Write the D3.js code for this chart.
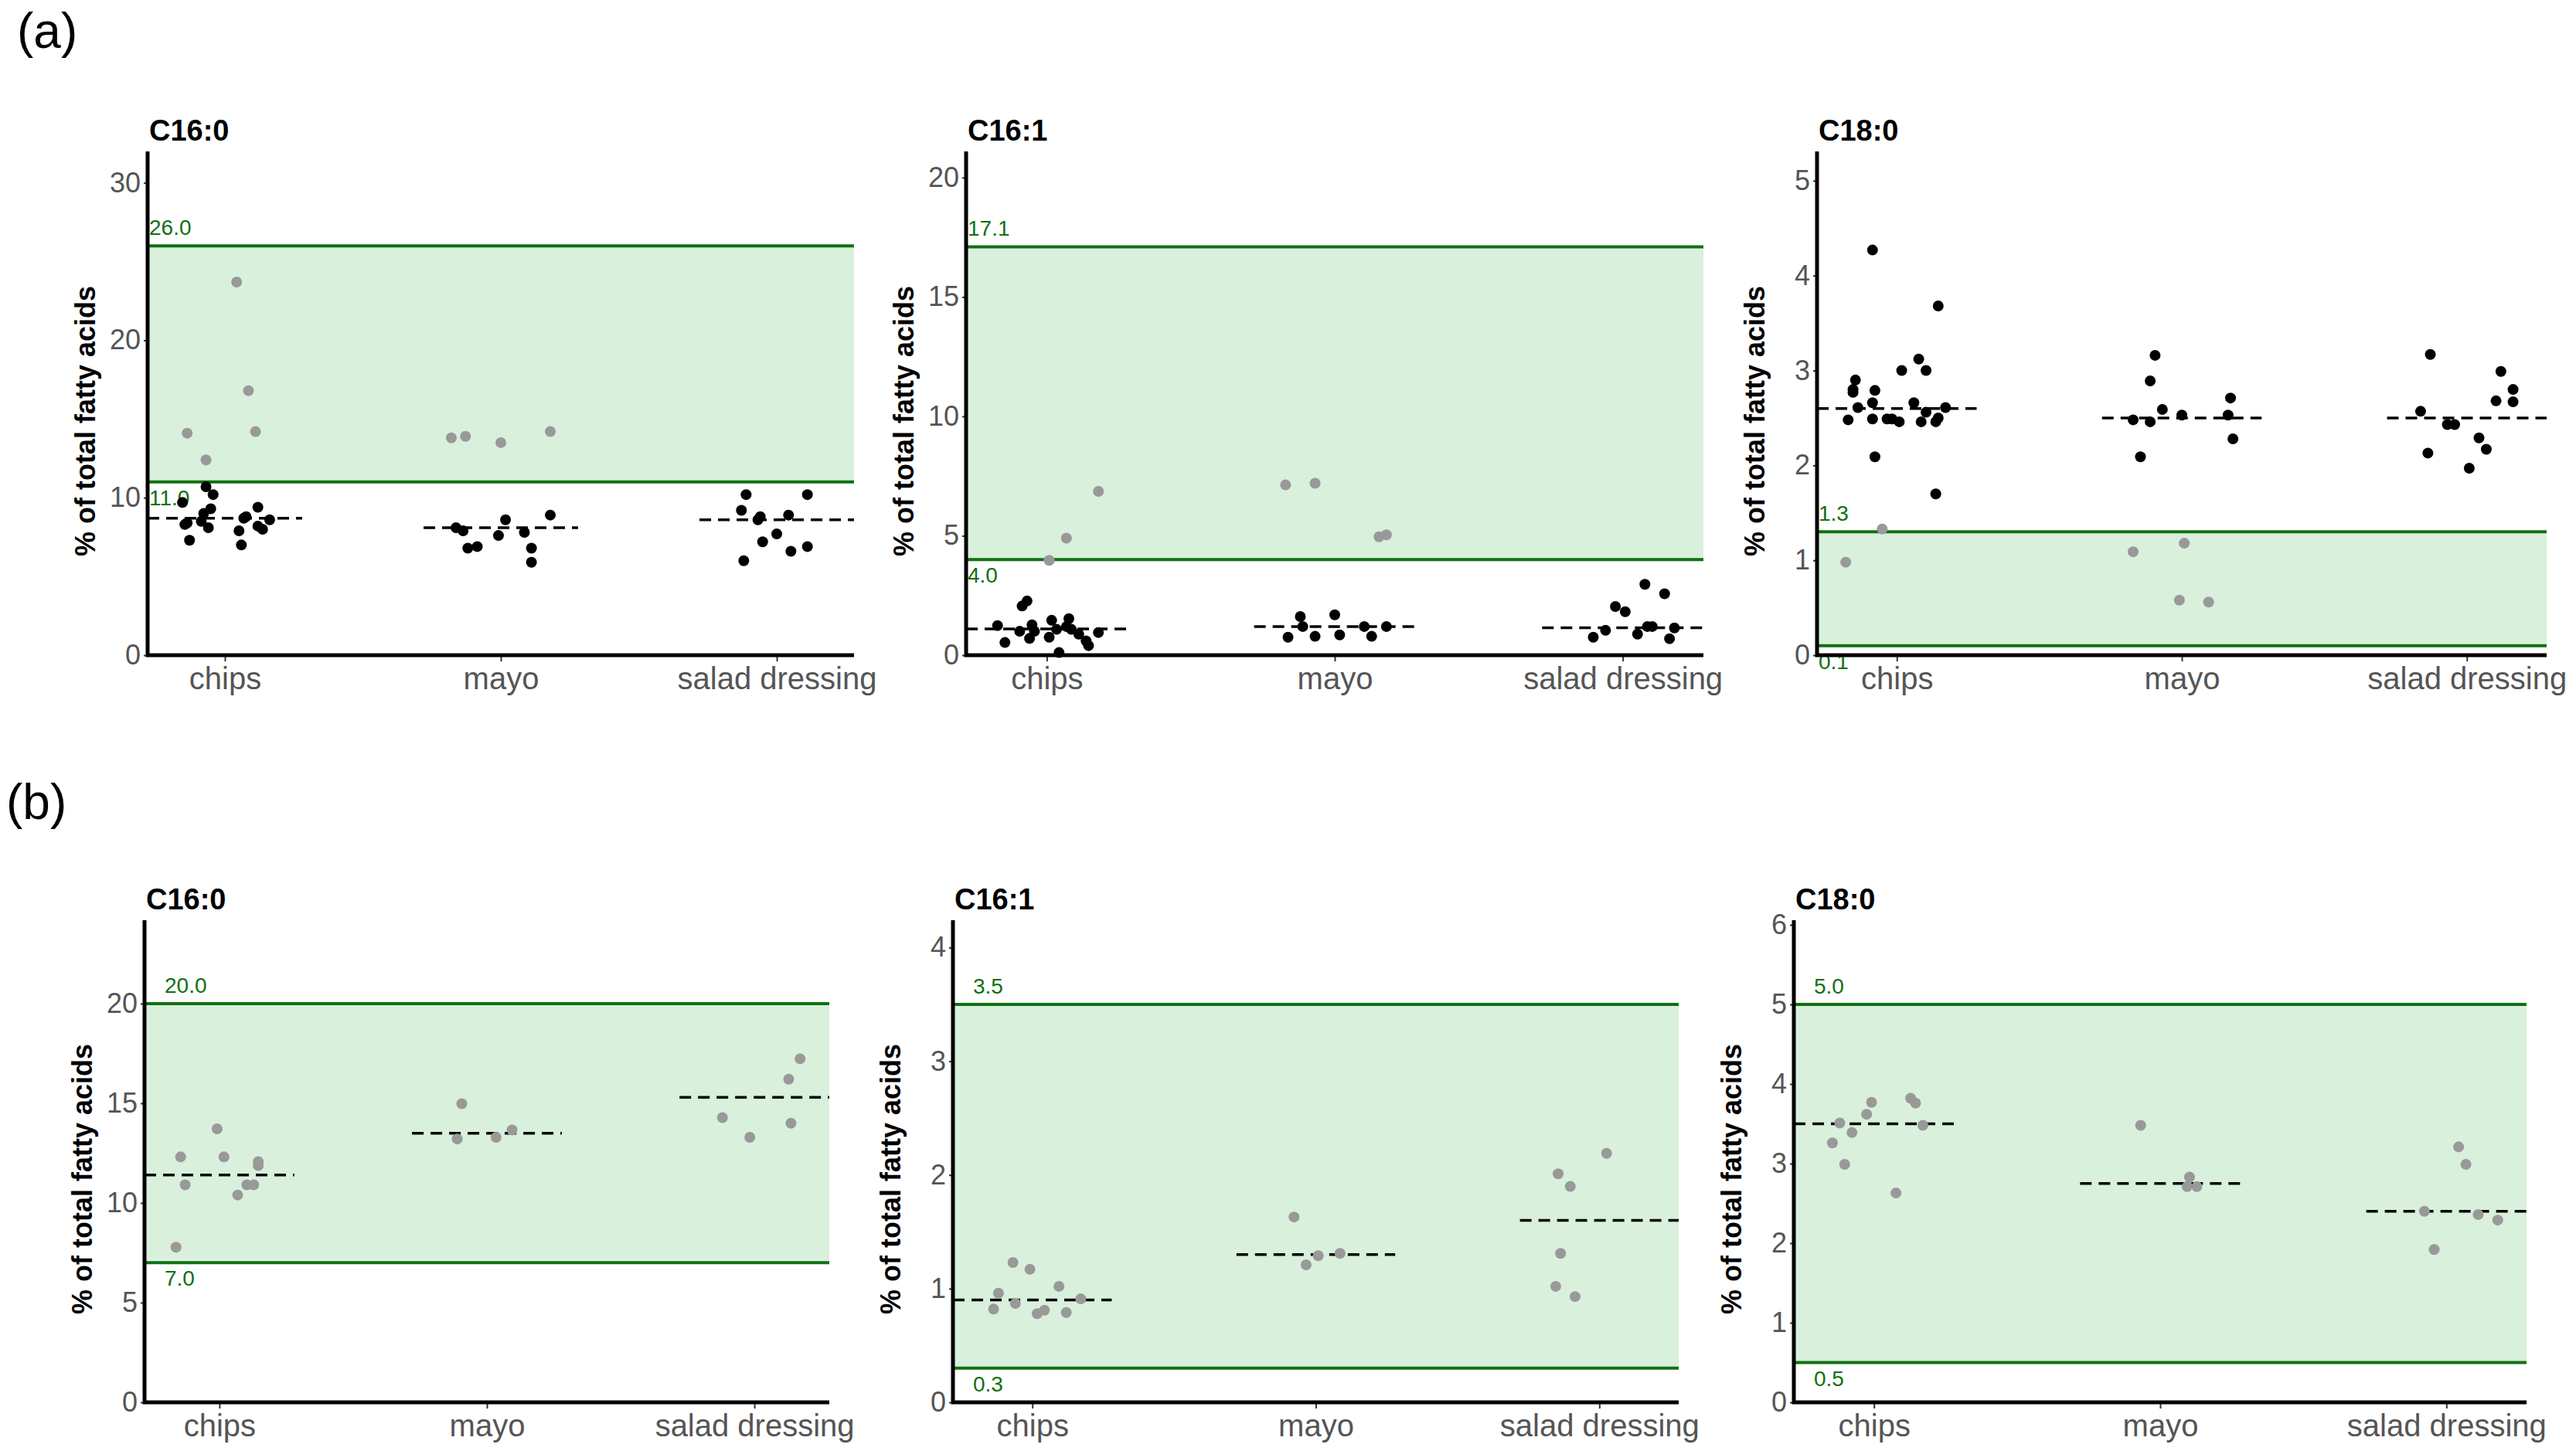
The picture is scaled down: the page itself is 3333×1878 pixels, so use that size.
<!DOCTYPE html>
<html>
<head>
<meta charset="utf-8">
<script src="https://cdn.jsdelivr.net/npm/d3@7"></script>
<style>
  body { margin: 0; background: #fff; }
  text { font-family: "Liberation Sans", Arial, sans-serif; }
</style>
</head>
<body>
<svg id="chart" width="3333" height="1878"></svg>
<script>
var categories = ['chips', 'mayo', 'salad dressing']

// values; jitter = horizontal offset (fraction of the 415px band in the source)
var a1_black = {
  chips: [9.7, 10.7, 10.2, 8.4, 8.3, 7.3, 9.3, 9.0, 8.1, 7.9, 7.0, 9.4, 8.8, 8.7, 8.2, 8.0, 8.6, 8.5],
  mayo: [8.1, 7.9, 6.8, 6.9, 7.6, 8.6, 7.8, 6.8, 5.9, 8.9],
  'salad dressing': [10.2, 9.2, 8.6, 8.8, 7.2, 7.7, 8.9, 6.6, 6.9, 10.2, 6.0]
}
var a1_black_jit = {
  chips: [-0.18, -0.08, -0.05, -0.16, -0.17, -0.15, -0.06, -0.09, -0.07, 0.06, 0.07, 0.14, 0.09, 0.08, 0.14, 0.16, 0.19, -0.10],
  mayo: [-0.19, -0.16, -0.14, -0.10, -0.01, 0.02, 0.10, 0.13, 0.13, 0.21],
  'salad dressing': [-0.13, -0.15, -0.08, -0.07, -0.06, 0, 0.05, 0.06, 0.13, 0.13, -0.14]
}
var a1_gray = { chips: [23.7, 14.1, 12.4, 16.8, 14.2], mayo: [13.8, 13.9, 13.5, 14.2], 'salad dressing': [] }
var a1_gray_jit = { chips: [0.05, -0.16, -0.08, 0.10, 0.13], mayo: [-0.21, -0.15, 0, 0.21], 'salad dressing': [] }
var a1_median = [8.7, 8.1, 8.6]

var a2_black = {
  chips: [1.24, 0.53, 2.06, 2.27, 1.0, 0.7, 1.27, 1.0, 0.75, 1.46, 1.08, 0.11, 1.53, 1.08, 0.88, 0.6, 0.4, 0.95, 1.2],
  mayo: [0.75, 1.62, 1.2, 0.79, 1.69, 0.85, 1.2, 0.79, 1.2],
  'salad dressing': [0.75, 1.04, 2.04, 1.82, 0.88, 2.97, 1.2, 1.2, 2.57, 0.69, 1.14]
}
var a2_black_jit = {
  chips: [-0.20, -0.17, -0.10, -0.08, -0.11, -0.07, -0.06, -0.05, 0.01, 0.02, 0.04, 0.05, 0.09, 0.10, 0.13, 0.16, 0.17, 0.21, 0.08],
  mayo: [-0.19, -0.14, -0.13, -0.08, 0.00, 0.02, 0.12, 0.15, 0.21],
  'salad dressing': [-0.12, -0.07, -0.03, 0.01, 0.06, 0.09, 0.10, 0.12, 0.17, 0.19, 0.21]
}
var a2_gray = { chips: [3.97, 4.9, 6.86], mayo: [7.13, 7.2, 4.96, 5.04], 'salad dressing': [] }
var a2_gray_jit = { chips: [0.01, 0.08, 0.21], mayo: [-0.20, -0.08, 0.18, 0.21], 'salad dressing': [] }
var a2_median = [1.1, 1.2, 1.15]

var a3_black = {
  chips: [2.48, 2.77, 2.9, 2.8, 2.61, 4.27, 2.09, 2.79, 2.49, 2.66, 2.49, 2.49, 2.46, 3.0, 2.66, 3.12, 2.46, 3.0, 2.56, 2.46, 2.5, 3.68, 1.7, 2.61],
  mayo: [2.48, 2.09, 2.89, 2.46, 3.16, 2.59, 2.53, 2.53, 2.71, 2.28],
  'salad dressing': [2.57, 2.13, 3.17, 2.43, 2.43, 1.97, 2.29, 2.17, 2.68, 2.99, 2.8, 2.67]
}
var a3_black_jit = {
  chips: [-0.20, -0.18, -0.17, -0.18, -0.16, -0.10, -0.09, -0.09, -0.10, -0.10, -0.04, -0.02, 0.01, 0.02, 0.07, 0.09, 0.10, 0.12, 0.12, 0.16, 0.17, 0.17, 0.16, 0.20],
  mayo: [-0.20, -0.17, -0.13, -0.13, -0.11, -0.08, 0.00, 0.19, 0.20, 0.21],
  'salad dressing': [-0.19, -0.16, -0.15, -0.08, -0.05, 0.01, 0.05, 0.08, 0.12, 0.14, 0.19, 0.19]
}
var a3_gray = { chips: [0.98, 1.33], mayo: [1.09, 1.18, 0.58, 0.56], 'salad dressing': [] }
var a3_gray_jit = { chips: [-0.21, -0.06], mayo: [-0.20, 0.01, -0.01, 0.11], 'salad dressing': [] }
var a3_median = [2.6, 2.5, 2.5]

var b1_gray = {
  chips: [7.78, 12.31, 10.91, 13.72, 12.31, 10.40, 10.91, 10.91, 11.88, 12.07],
  mayo: [14.98, 13.21, 13.29, 13.66],
  'salad dressing': [14.28, 13.29, 16.21, 14.0, 17.23]
}
var b1_gray_jit = {
  chips: [-0.19, -0.17, -0.15, -0.01, 0.02, 0.08, 0.12, 0.15, 0.17, 0.17],
  mayo: [-0.11, -0.13, 0.04, 0.11],
  'salad dressing': [-0.14, -0.02, 0.15, 0.16, 0.20]
}
var b1_median = [11.4, 13.5, 15.3]

var b2_gray = {
  chips: [0.82, 0.96, 1.23, 0.87, 1.17, 0.78, 0.81, 1.02, 0.79, 0.91],
  mayo: [1.63, 1.21, 1.29, 1.31],
  'salad dressing': [1.02, 2.01, 1.31, 1.90, 0.93, 2.19]
}
var b2_gray_jit = {
  chips: [-0.16, -0.14, -0.08, -0.07, -0.01, 0.02, 0.05, 0.11, 0.14, 0.20],
  mayo: [-0.09, -0.04, 0.01, 0.10],
  'salad dressing': [-0.18, -0.17, -0.16, -0.12, -0.10, 0.03]
}
var b2_median = [0.9, 1.3, 1.6]

var b3_gray = {
  chips: [3.26, 3.51, 2.99, 3.39, 3.62, 3.77, 2.63, 3.82, 3.76, 3.48],
  mayo: [3.48, 2.83, 2.71, 2.71],
  'salad dressing': [2.40, 1.92, 3.21, 2.99, 2.36, 2.29]
}
var b3_gray_jit = {
  chips: [-0.17, -0.14, -0.12, -0.09, -0.03, -0.01, 0.09, 0.15, 0.17, 0.20],
  mayo: [-0.08, 0.12, 0.11, 0.15],
  'salad dressing': [-0.09, -0.05, 0.05, 0.08, 0.13, 0.21]
}
var b3_median = [3.5, 2.75, 2.4]

var panels = [
  { title: 'C16:0', x0: 191, x1: 1105, yb: 848, yt: 202, max: 31.7, ticks: [0, 10, 20, 30], band: [11.0, 26.0], lab: ['11.0', '26.0'], labDx: 2,
    black: a1_black, blackJit: a1_black_jit, gray: a1_gray, grayJit: a1_gray_jit, median: a1_median },
  { title: 'C16:1', x0: 1250, x1: 2204, yb: 848, yt: 202, max: 20.9, ticks: [0, 5, 10, 15, 20], band: [4.0, 17.1], lab: ['4.0', '17.1'], labDx: 2,
    black: a2_black, blackJit: a2_black_jit, gray: a2_gray, grayJit: a2_gray_jit, median: a2_median },
  { title: 'C18:0', x0: 2351, x1: 3295, yb: 848, yt: 202, max: 5.26, ticks: [0, 1, 2, 3, 4, 5], band: [0.1, 1.3], lab: ['0.1', '1.3'], labDx: 2,
    black: a3_black, blackJit: a3_black_jit, gray: a3_gray, grayJit: a3_gray_jit, median: a3_median },
  { title: 'C16:0', x0: 187, x1: 1073, yb: 1815, yt: 1197, max: 23.95, ticks: [0, 5, 10, 15, 20], band: [7.0, 20.0], lab: ['7.0', '20.0'], labDx: 26,
    black: null, gray: b1_gray, grayJit: b1_gray_jit, median: b1_median },
  { title: 'C16:1', x0: 1233, x1: 2172, yb: 1815, yt: 1197, max: 4.2, ticks: [0, 1, 2, 3, 4], band: [0.3, 3.5], lab: ['0.3', '3.5'], labDx: 26,
    black: null, gray: b2_gray, grayJit: b2_gray_jit, median: b2_median },
  { title: 'C18:0', x0: 2321, x1: 3269, yb: 1815, yt: 1197, max: 6, ticks: [0, 1, 2, 3, 4, 5, 6], band: [0.5, 5.0], lab: ['0.5', '5.0'], labDx: 26,
    black: null, gray: b3_gray, grayJit: b3_gray_jit, median: b3_median }
]

var svg = d3.select('#chart')
var green = '#117011', fill = '#d8f0dc'

svg.append('text').attr('x', 22).attr('y', 62).attr('font-size', 64).text('(a)')
svg.append('text').attr('x', 8).attr('y', 1060).attr('font-size', 64).text('(b)')

panels.forEach(function (p) {
  var g = svg.append('g')
  var x = d3.scalePoint().domain(categories).range([p.x0, p.x1]).padding(0.28)
  var y = d3.scaleLinear().domain([0, p.max]).range([p.yb, p.yt])
  var jw = x.step() * 0.854

  g.append('rect').attr('x', p.x0).attr('width', p.x1 - p.x0)
    .attr('y', y(p.band[1])).attr('height', y(p.band[0]) - y(p.band[1])).attr('fill', fill)
  p.band.forEach(function (v, i) {
    g.append('line').attr('x1', p.x0).attr('x2', p.x1).attr('y1', y(v)).attr('y2', y(v))
      .attr('stroke', green).attr('stroke-width', 4)
    g.append('text').attr('x', p.x0 + p.labDx)
      .attr('y', i == 1 ? y(v) - 14 : y(v) + 30)
      .attr('fill', green).attr('font-size', 28).text(p.lab[i])
  })

  // axes
  var ya = g.append('g').attr('transform', 'translate(' + p.x0 + ',0)')
    .call(d3.axisLeft(y).tickValues(p.ticks).tickFormat(d3.format('d')).tickSize(5).tickPadding(4))
  ya.select('.domain').remove()
  ya.selectAll('text').attr('font-size', 36).attr('fill', '#555').attr('font-family', '"Liberation Sans Narrow", "Liberation Sans", Arial, sans-serif')
  ya.selectAll('line').attr('stroke', '#333').attr('stroke-width', 2)
  var xa = g.append('g').attr('transform', 'translate(0,' + p.yb + ')')
    .call(d3.axisBottom(x).tickSize(8).tickPadding(8))
  xa.select('.domain').remove()
  xa.selectAll('text').attr('font-size', 40).attr('fill', '#555').attr('font-family', '"Liberation Sans Narrow", "Liberation Sans", Arial, sans-serif')
  xa.selectAll('line').attr('stroke', '#333').attr('stroke-width', 2)
  g.append('path').attr('d', 'M' + p.x0 + ',' + (p.yt - 6) + 'V' + p.yb + 'H' + p.x1)
    .attr('fill', 'none').attr('stroke', '#000').attr('stroke-width', 5)

  var lx = p.x0 - 68, ly = (p.yb + p.yt) / 2 + 20
  g.append('text').attr('x', lx).attr('y', ly)
    .attr('transform', 'rotate(-90,' + lx + ',' + ly + ')')
    .attr('text-anchor', 'middle').attr('font-weight', 'bold').attr('font-size', 36).text('% of total fatty acids')
  g.append('text').attr('x', p.x0 + 2).attr('y', p.yt - 20)
    .attr('font-weight', 'bold').attr('font-size', 38).text(p.title)

  // medians
  g.selectAll('.med').data(p.median).enter().append('line')
    .attr('x1', function (d, i) { return Math.max(p.x0, x(categories[i]) - x.step() * 0.28) })
    .attr('x2', function (d, i) { return x(categories[i]) + x.step() * 0.28 })
    .attr('y1', function (d) { return y(d) }).attr('y2', function (d) { return y(d) })
    .attr('stroke', '#000').attr('stroke-width', 3.5).attr('stroke-dasharray', '15,9')

  function dots(vals, jit, color) {
    var pts = []
    categories.forEach(function (c) {
      vals[c].forEach(function (v, i) { pts.push({ c: c, v: v, j: jit[c][i] }) })
    })
    g.selectAll(null).data(pts).enter().append('circle')
      .attr('cx', function (d) { return x(d.c) + d.j * jw })
      .attr('cy', function (d) { return y(d.v) })
      .attr('r', 7).attr('fill', color)
  }
  dots(p.gray, p.grayJit, '#999999')
  if (p.black) dots(p.black, p.blackJit, '#000000')
})
</script>
</body>
</html>
